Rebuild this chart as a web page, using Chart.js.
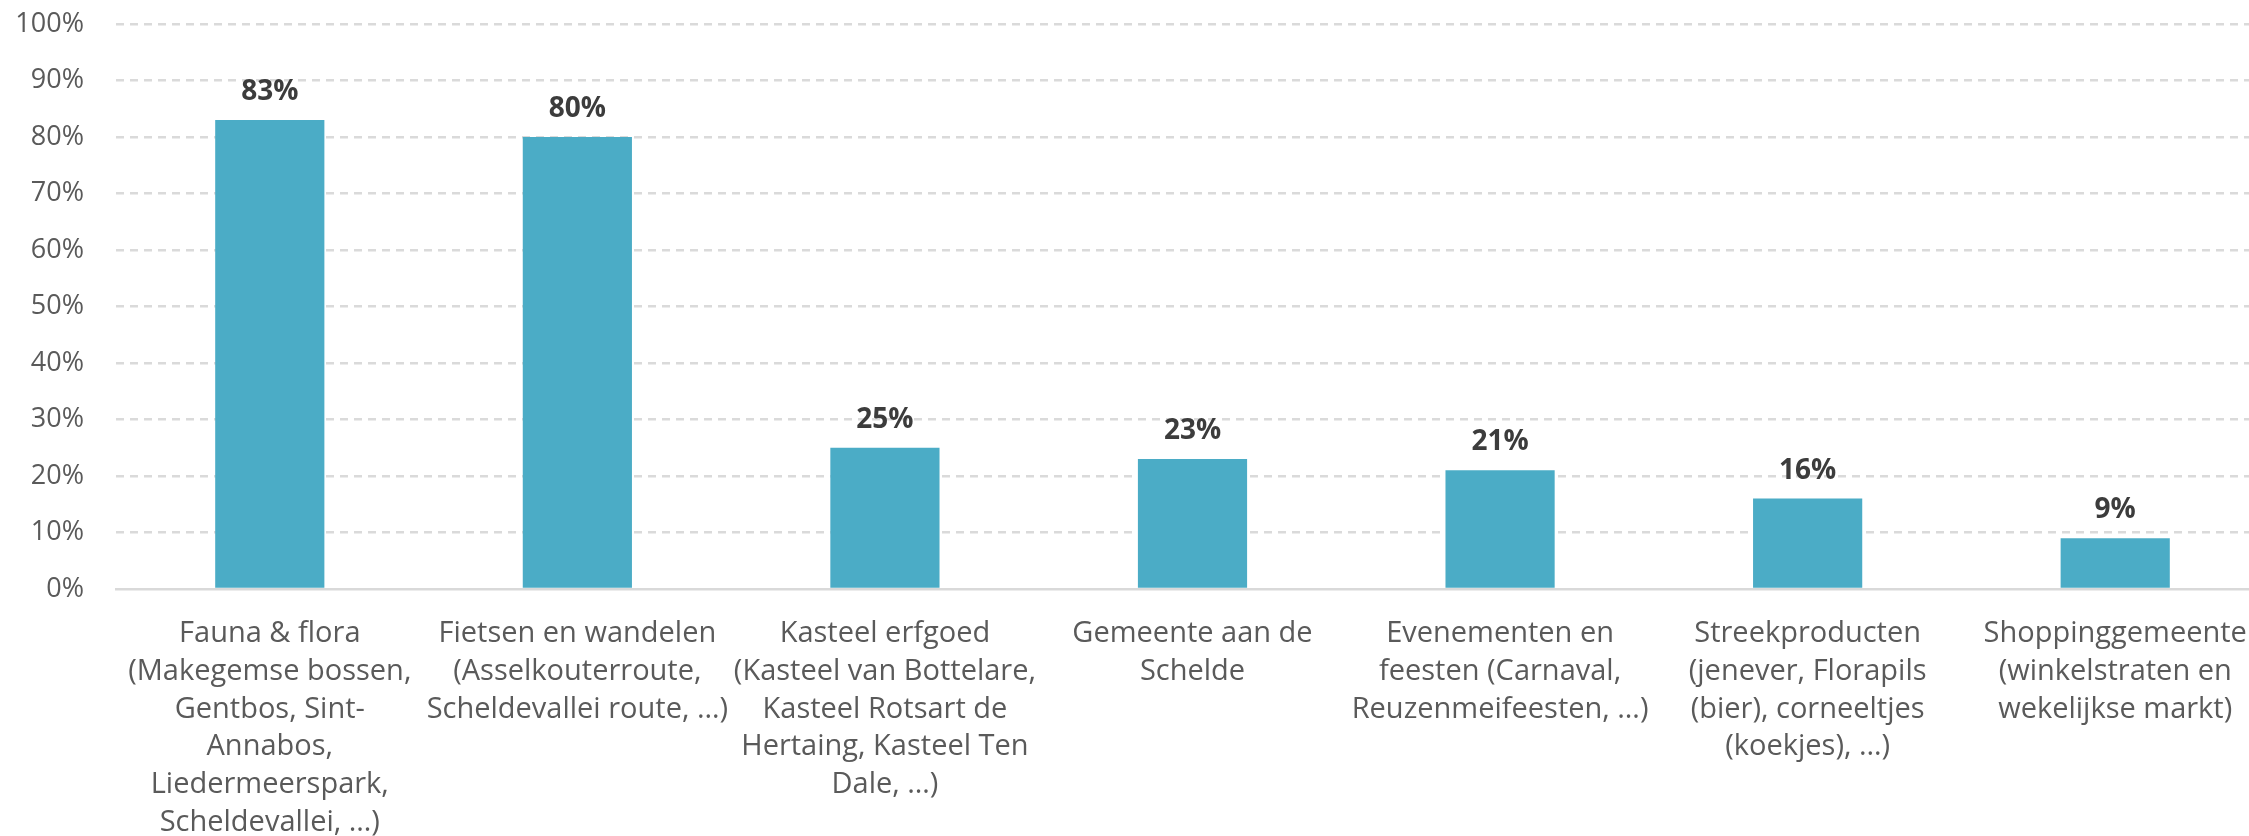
<!DOCTYPE html>
<html>
<head>
<meta charset="utf-8">
<script src="https://cdn.jsdelivr.net/npm/chart.js@4/dist/chart.umd.min.js"></script>
<style>
  html, body { margin: 0; padding: 0; background: #fff; overflow: hidden; }
  #wrap { position: relative; width: 2269px; height: 836px; }
</style>
</head>
<body>
<div id="wrap"><canvas id="attracties"></canvas></div>
<script>
var categories = [
  ["Fauna & flora", "(Makegemse bossen,", "Gentbos, Sint-", "Annabos,", "Liedermeerspark,", "Scheldevallei, …)"],
  ["Fietsen en wandelen", "(Asselkouterroute,", "Scheldevallei route, …)"],
  ["Kasteel erfgoed", "(Kasteel van Bottelare,", "Kasteel Rotsart de", "Hertaing, Kasteel Ten", "Dale, …)"],
  ["Gemeente aan de", "Schelde"],
  ["Evenementen en", "feesten (Carnaval,", "Reuzenmeifeesten, …)"],
  ["Streekproducten", "(jenever, Florapils", "(bier), corneeltjes", "(koekjes), …)"],
  ["Shoppinggemeente", "(winkelstraten en", "wekelijkse markt)"]
];
var percentages = [83, 80, 25, 23, 21, 16, 9];
var yTicks = [0, 10, 20, 30, 40, 50, 60, 70, 80, 90, 100];

var FONT = "'Open Sans', 'Noto Sans', sans-serif";

// percentage above each bar
var valueLabels = {
  id: "valueLabels",
  afterDatasetsDraw: function (chart) {
    var ctx = chart.ctx;
    var meta = chart.getDatasetMeta(0);
    ctx.save();
    ctx.font = "bold 28px " + FONT;
    ctx.fillStyle = "#3c3c3c";
    ctx.textAlign = "center";
    ctx.textBaseline = "alphabetic";
    meta.data.forEach(function (bar, i) {
      ctx.fillText(chart.data.datasets[0].data[i] + "%", bar.x, bar.y - 20);
    });
    ctx.restore();
  },
};

var ctx = document.getElementById("attracties").getContext("2d");
var myChart = new Chart(ctx, {
  type: "bar",
  data: {
    labels: categories,
    datasets: [
      {
        data: percentages,
        backgroundColor: "#4BACC6",
        borderWidth: 0,
        categoryPercentage: 1,
        barPercentage: 0.355,
      },
    ],
  },
  options: {
    responsive: true,
    maintainAspectRatio: false,
    animation: false,
    layout: { padding: { top: 24, right: 0, bottom: 0, left: 0 } },
    plugins: {
      legend: { display: false },
      tooltip: { enabled: false },
    },
    scales: {
      x: {
        grid: { display: false },
        border: { display: true, color: "#d9d9d9", width: 2.5 },
        ticks: {
          color: "#5a5a5a",
          padding: 18,
          maxRotation: 0,
          autoSkip: false,
          font: { family: FONT, size: 29, lineHeight: 1.3 },
        },
        afterFit: function (scale) {
          scale.height = 247;
        },
      },
      y: {
        min: 0,
        max: 100,
        afterBuildTicks: function (scale) {
          scale.ticks = yTicks.map(function (v) { return { value: v }; });
        },
        grid: {
          drawTicks: false,
          lineWidth: 2.5,
          color: function (c) {
            return c.tick && c.tick.value === 0 ? "rgba(0,0,0,0)" : "#dadada";
          },
        },
        border: { display: false, dash: [8, 6] },
        ticks: {
          color: "#5a5a5a",
          padding: 32,
          font: { family: FONT, size: 27 },
          callback: function (v) { return v + "%"; },
        },
        afterFit: function (scale) {
          scale.width = 116;
          scale.paddingTop = 0;
          scale.paddingBottom = 0;
        },
      },
    },
  },
  plugins: [valueLabels],
});
</script>
</body>
</html>
